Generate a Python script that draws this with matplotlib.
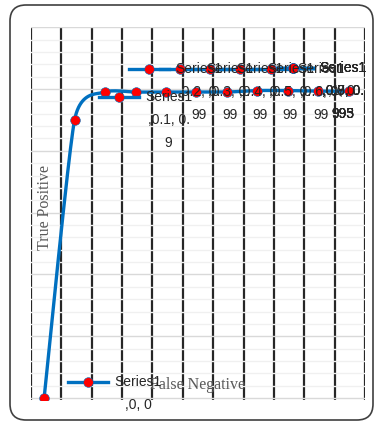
import numpy as np
import matplotlib
matplotlib.use('Agg')
import matplotlib.pyplot as plt
from matplotlib.patches import FancyBboxPatch

# ROC-like points (false negative on x, true positive on y)
fpr = [0, 0.1, 0.2, 0.3, 0.4, 0.5, 0.6, 0.7, 0.8, 0.9, 1.0]
tpr = [0, 0.9, 0.99, 0.99, 0.99, 0.99, 0.99, 0.995, 0.995, 0.993, 0.993]
series_name = 'Series1'
x_title = 'False Negative'
y_title = 'True Positive'

W, H = 380, 423
BLUE = '#0070C0'
RED = '#FF0000'
TXT = '#262626'

fig = plt.figure(figsize=(W / 100, H / 100), dpi=100)
ax = fig.add_axes([31 / W, 1 - 400 / H, (365 - 31) / W, (400 - 27) / H])

xlim = (-0.043, 1.053)
ylim = (-0.006, 1.2005)
ax.set_xlim(*xlim)
ax.set_ylim(*ylim)
ax.set_xticks(np.linspace(xlim[0], xlim[1], 12))
ax.set_yticks(np.arange(0, 1.21, 0.2))
ax.set_yticks(np.arange(0, 1.2, 0.04), minor=True)
ax.tick_params(which='both', length=0, labelbottom=False, labelleft=False)
ax.grid(axis='x', color='#262626', lw=1.6)
ax.grid(axis='y', which='major', color='#d9d9d9', lw=1.0)
ax.grid(axis='y', which='minor', color='#f0f0f0', lw=1.0)
ax.set_axisbelow(True)
for s in ax.spines.values():
    s.set_visible(False)


#-----------------------------------------------------------------
def smooth(xs, ys, n=25, tension=0.6):
    # cardinal spline through the points, for drawing only
    pts = np.column_stack([xs, ys])
    p = np.vstack([pts[0], pts, pts[-1]])
    out = []
    t = np.linspace(0, 1, n)[:, None]
    for i in range(1, len(p) - 2):
        p0, p1, p2, p3 = p[i - 1], p[i], p[i + 1], p[i + 2]
        m1 = tension * (p2 - p0) / 2
        m2 = tension * (p3 - p1) / 2
        c1 = p1 + m1 / 3
        c2 = p2 - m2 / 3
        seg = ((1 - t) ** 3) * p1 + 3 * ((1 - t) ** 2) * t * c1 + 3 * (1 - t) * t ** 2 * c2 + t ** 3 * p2
        out.append(seg)
    return np.vstack(out)


curve = smooth(fpr, tpr)
ax.plot(curve[:, 0], curve[:, 1], color=BLUE, lw=2.4, solid_capstyle='round', zorder=3)
ax.plot(fpr, tpr, 'o', color=RED, ms=7, mec=BLUE, mew=0.4, zorder=4)

# overlay in pixel coordinates for border, titles and data labels
ov = fig.add_axes([0, 0, 1, 1], zorder=5)
ov.set_xlim(0, W)
ov.set_ylim(H, 0)
ov.axis('off')

ov.add_patch(FancyBboxPatch((10, 5), 363, 415, boxstyle='round,pad=0,rounding_size=16',
                            fill=False, ec='#404040', lw=1.2))

ov.text(45, 208, y_title, rotation=90, ha='center', va='center',
        family='Liberation Serif', fontsize=11.5, color='#595959')
ov.text(197, 385, x_title, ha='center', va='center',
        family='Liberation Serif', fontsize=11.5, color='#595959')


def label_lines(x, y):
    xs = f'{x:g}'
    ys = f'{y:g}'
    if y == 0:
        return [series_name, f',{xs}, {ys}']
    lines = [series_name, f',{xs}, {ys[:2]}']
    if ys[2:]:
        lines.append(ys[2:])
    return lines


# data labels with legend keys (Excel style, kept inside the chart area)
for x, y in zip(fpr, tpr):
    dx, dy = ax.transData.transform((x, y))
    px, py = dx, H - dy
    px = min(px, 249)
    lines = label_lines(x, y)
    pitch = 23
    top = py - pitch * (len(lines) - 1) / 2
    bottom = top + pitch * (len(lines) - 1)
    if bottom > 405:
        top -= bottom - 405
    kx, ky = px + 44, top
    ov.plot([kx - 20, kx + 20], [ky, ky], color=BLUE, lw=2.4, zorder=6)
    ov.plot(kx, ky, 'o', color=RED, ms=7, mec=BLUE, mew=0.4, zorder=7)
    for i, s in enumerate(lines):
        ov.text(px + 94, top + i * pitch, s, ha='center', va='center',
                family='Liberation Sans', fontsize=10, color=TXT, zorder=8)

fig.savefig('out.png', dpi=100)
